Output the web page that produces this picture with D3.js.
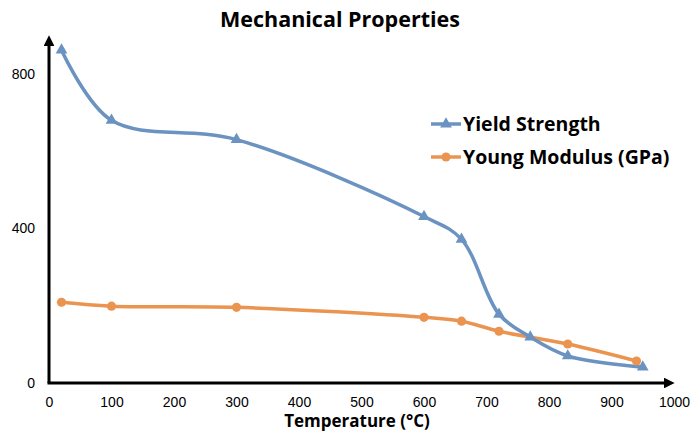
<!DOCTYPE html>
<html><head><meta charset="utf-8">
<script src="https://cdn.jsdelivr.net/npm/d3@7"></script>
<style>body{margin:0;background:#fff}svg{display:block}</style>
</head><body>
<svg id="c" width="690" height="433"></svg>
<script>
const yieldTemps = [20, 100, 300, 600, 660, 720, 770, 830, 950];
const yieldValues = [862, 680, 630, 431, 372, 178, 119, 70, 41];
const modulusTemps = [20, 100, 300, 600, 660, 720, 830, 940];
const modulusValues = [209, 199, 196, 170, 160, 134, 101, 57];
const xTicks = [0, 100, 200, 300, 400, 500, 600, 700, 800, 900, 1000];
const yTicks = [0, 400, 800];
const seriesNames = ["Yield Strength", "Young Modulus (GPa)"];

const svg = d3.select("#c");
const blue = "#6b93c1", orange = "#eb9450";
const x = d3.scaleLinear().domain([0, 1000]).range([49, 674]);
const y = d3.scaleLinear().domain([0, 800]).range([383, 74]);

// title
svg.append("text").attr("x", 340).attr("y", 27).attr("text-anchor", "middle")
  .style("font-family", "Open Sans").style("font-weight", "bold").style("font-size", "21.5px")
  .text("Mechanical Properties");

// axes lines with arrows
const defs = svg.append("defs");
defs.append("marker").attr("id", "arr").attr("viewBox", "0 0 10 10").attr("refX", 2).attr("refY", 5)
  .attr("markerWidth", 3.6).attr("markerHeight", 3.6).attr("orient", "auto")
  .append("path").attr("d", "M0,0 L10,5 L0,10 z").attr("fill", "#000");

svg.append("line").attr("x1", x(0)).attr("y1", y(0)).attr("x2", x(0)).attr("y2", 44)
  .attr("stroke", "#000").attr("stroke-width", 3).attr("marker-end", "url(#arr)");
svg.append("line").attr("x1", x(0) - 1.5).attr("y1", y(0)).attr("x2", 666).attr("y2", y(0))
  .attr("stroke", "#000").attr("stroke-width", 3).attr("marker-end", "url(#arr)");

// tick labels
const xAxis = d3.axisBottom(x).tickValues(xTicks).tickFormat(d3.format("d")).tickSize(0).tickPadding(14);
const gx = svg.append("g").attr("transform", `translate(0,${y(0)})`).call(xAxis);
gx.select(".domain").remove();
gx.selectAll("text").style("font-family", "Liberation Sans, Arial").style("font-size", "14px").attr("fill", "#000");

const yAxis = d3.axisLeft(y).tickValues(yTicks).tickFormat(d3.format("d")).tickSize(0).tickPadding(14);
const gy = svg.append("g").attr("transform", `translate(${x(0)},0)`).call(yAxis);
gy.select(".domain").remove();
gy.selectAll("text").style("font-family", "Liberation Sans, Arial").style("font-size", "14px").attr("fill", "#000");

// axis title
svg.append("text").attr("x", 357).attr("y", 427).attr("text-anchor", "middle")
  .style("font-family", "Open Sans").style("font-weight", "bold").style("font-size", "17px")
  .text("Temperature (°C)");

const line = d3.line().x(d => x(d[0])).y(d => y(d[1])).curve(d3.curveCatmullRom.alpha(0.5));
const yData = yieldTemps.map((t, i) => [t, yieldValues[i]]);
const mData = modulusTemps.map((t, i) => [t, modulusValues[i]]);

svg.append("path").datum(mData).attr("d", line).attr("fill", "none")
  .attr("stroke", orange).attr("stroke-width", 3.5).attr("stroke-linejoin", "round");
svg.append("path").datum(yData).attr("d", line).attr("fill", "none")
  .attr("stroke", blue).attr("stroke-width", 3.5).attr("stroke-linejoin", "round");

const tri = d3.symbol().type(d3.symbolTriangle).size(60);
svg.selectAll(".tri").data(yData).enter().append("path")
  .attr("transform", d => `translate(${x(d[0])},${y(d[1])})`).attr("d", tri).attr("fill", blue);
svg.selectAll(".dot").data(mData).enter().append("circle")
  .attr("cx", d => x(d[0])).attr("cy", d => y(d[1])).attr("r", 4.6).attr("fill", orange);

// legend
const leg = [{name: seriesNames[0], color: blue, sym: "tri", yy: 124},
             {name: seriesNames[1], color: orange, sym: "dot", yy: 157}];
leg.forEach(l => {
  svg.append("line").attr("x1", 431).attr("x2", 461).attr("y1", l.yy).attr("y2", l.yy)
    .attr("stroke", l.color).attr("stroke-width", 3.5);
  if (l.sym === "tri") svg.append("path").attr("transform", `translate(446,${l.yy})`).attr("d", tri).attr("fill", l.color);
  else svg.append("circle").attr("cx", 446).attr("cy", l.yy).attr("r", 4.6).attr("fill", l.color);
  svg.append("text").attr("x", 463).attr("y", l.yy + 7).style("font-family", "Open Sans")
    .style("font-weight", "bold").style("font-size", "19.5px").attr("fill", "#000").text(l.name);
});
</script>
</body></html>
